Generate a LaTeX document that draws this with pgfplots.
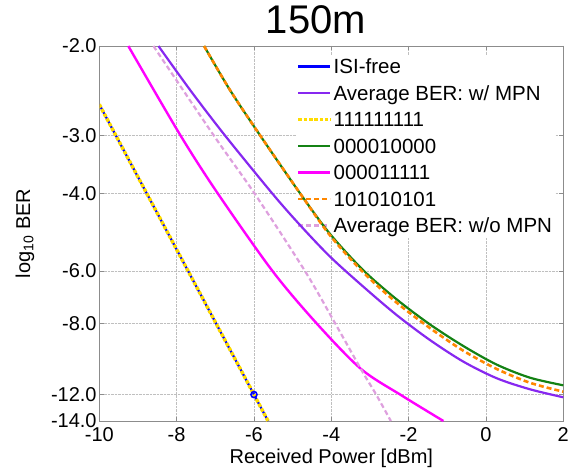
\documentclass[border=0pt]{standalone}
\usepackage{pgfplots}
\pgfplotsset{compat=1.18}
\usepackage{fontspec}
\setmainfont{Liberation Sans}
\definecolor{isiblue}{RGB}{0,0,255}
\definecolor{avgmpn}{RGB}{135,40,240}
\definecolor{allones}{RGB}{255,220,0}
\definecolor{isolone}{RGB}{20,130,20}
\definecolor{stepm}{RGB}{255,0,255}
\definecolor{altor}{RGB}{255,135,0}
\definecolor{nompn}{RGB}{222,160,222}

% y is log10(Q), Q the Gaussian argument of the BER; ticks are labelled with log10(BER)
\begin{document}
\begin{tikzpicture}
\begin{axis}[
  set layers, clip mode=individual,
  scale only axis, width=464pt, height=375pt,
  y dir=reverse,
  xmin=-10, xmax=2, ymin=0.36665, ymax=0.88369,
  xtick={-10,-8,-6,-4,-2,0,2}, xticklabels={-10,-8,-6,-4,-2,0,2},
  ytick={0.36665,0.48998,0.57043,0.67700,0.74912,0.84724,0.88369},
  yticklabels={-2.0,-3.0,-4.0,-6.0,-8.0,-12.0,-14.0},
  tick align=inside, major tick length=4.5pt,
  axis line style={black!45}, tick style={black!45, line width=0.6pt},
  grid=major, grid style={densely dotted, black!25, line width=0.6pt},
  ticklabel style={font=\fontsize{20}{24}\selectfont},
  yticklabel style={inner xsep=2.5pt, inner ysep=1pt},
  xticklabel style={yshift=-2.8pt},
  xlabel={Received Power [dBm]},
  ylabel={log\textsubscript{10} BER},
  every axis x label/.style={at={(axis description cs:0.5,-0.1)}, anchor=center, font=\fontsize{20}{24}\selectfont},
  every axis y label/.style={at={(axis description cs:-0.16,0.5)}, rotate=90, anchor=center, font=\fontsize{20}{24}\selectfont},
  title={150m},
  title style={at={(axis description cs:0.467,1.055)}, anchor=center, font=\fontsize{40}{44}\selectfont},
  legend cell align=left,
  legend style={at={(axis description cs:0.4228,0.976)}, anchor=north west,
    draw=none, fill=white, inner sep=1pt, row sep=5.9pt,
    nodes={inner sep=1.5pt},
    font=\fontsize{20.5}{23}\selectfont},
  legend image code/.code={\draw[#1] (0pt,0pt) -- (32pt,0pt);},
  every axis plot/.append style={line cap=butt, on layer=axis foreground},
]
\addplot[isiblue, line width=2.2pt] coordinates {(-10,0.44724) (-6,0.84724) (-5.6355,0.88369)};
\addlegendentry{\strut ISI-free}
\addplot[avgmpn, line width=2.2pt, smooth] coordinates {
  (-8.47,0.3667) (-7.65,0.4274) (-6.75,0.4900) (-5.52,0.5704) (-4.81,0.6135)
  (-4.03,0.6572) (-3.17,0.6986) (-2.31,0.7376) (-1.45,0.7720) (-0.58,0.8020)
  (0.28,0.8248) (1.14,0.8400) (2.0,0.8510)};
\addlegendentry{\strut Average BER: w/ MPN}
\addplot[allones, line width=3.5pt, dash pattern=on 3.5pt off 1.8pt] coordinates {(-10,0.44724) (-6,0.84724) (-5.6355,0.88369)};
\addlegendentry{\strut 111111111}
\addplot[isolone, line width=2.2pt, smooth] coordinates {
  (-7.29,0.3667) (-6.62,0.4274) (-5.84,0.4900) (-4.80,0.5704) (-4.03,0.6260)
  (-3.17,0.6760) (-2.31,0.7160) (-1.45,0.7505) (-0.58,0.7805) (0.28,0.8060)
  (1.14,0.8240) (2.0,0.8345)};
\addlegendentry{\strut 000010000}
\addplot[stepm, line width=2.4pt, smooth] coordinates {
  (-9.25,0.3667) (-7.90,0.4900) (-6.93,0.5704) (-5.52,0.6770)
  (-4.38,0.7491) (-3.23,0.8120) (-2.15,0.8495) (-1.10,0.8837)};
\addlegendentry{\strut 000011111}
\addplot[altor, line width=2.6pt, dash pattern=on 5pt off 3pt, smooth] coordinates {
  (-7.29,0.3667) (-6.62,0.4274) (-5.84,0.4900) (-4.80,0.5704) (-4.03,0.6280)
  (-3.17,0.6790) (-2.31,0.7205) (-1.45,0.7555) (-0.58,0.7870) (0.28,0.8120)
  (1.14,0.8310) (2.0,0.8433)};
\addlegendentry{\strut 101010101}
\addplot[nompn, line width=2.2pt, dash pattern=on 5pt off 3pt, smooth] coordinates {
  (-8.60,0.3667) (-7.04,0.4900) (-5.98,0.5704) (-4.68,0.6770) (-3.90,0.7491)
  (-3.22,0.8134) (-2.84,0.8472) (-2.46,0.8837)};
\addlegendentry{\strut Average BER: w/o MPN}
\addplot[isiblue, line width=1.6pt, only marks, mark=o, mark size=3pt, forget plot] coordinates {(-6,0.84724)};
\end{axis}
\pgfresetboundingbox
\path[use as bounding box] (current axis.south west) ++(-99.3pt,-50pt) rectangle ++(570pt,471pt);
\end{tikzpicture}
\end{document}
